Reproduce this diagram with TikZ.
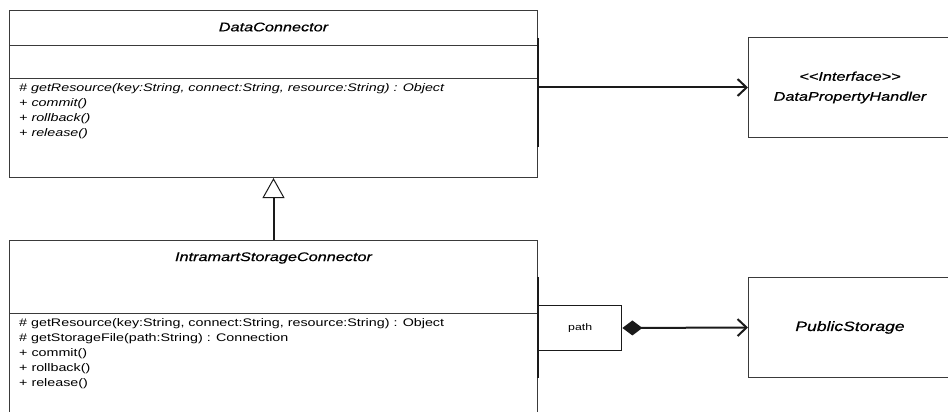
\documentclass[tikz,border=0pt]{standalone}
\usepackage{fontspec}
\newfontfamily\umlfont{Liberation Sans}[FakeStretch=1.3]
\newfontfamily\umltitle{Liberation Sans}[FakeStretch=1.3, FakeBold=0.6]
\usepackage{tikz}
\usetikzlibrary{arrows.meta, positioning, calc}
\definecolor{umlline}{HTML}{1a1a1a}
\definecolor{umlborder}{HTML}{3a3a3a}
\tikzset{
  classbox/.style={draw=umlborder, line width=1pt, minimum width=528pt, anchor=north west, inner sep=0pt},
  classname/.style={font=\umltitle\itshape\fontsize{12.5}{14}\selectfont, inner sep=0pt},
  members/.style={anchor=north west, align=left, inner sep=0pt, font=\umlfont\fontsize{11}{15}\selectfont},
  sidebox/.style={draw=umlborder, line width=1pt, minimum width=212pt, anchor=north west, inner sep=0pt},
  assoc/.style={draw=umlline, line width=2pt, -{Straight Barb[length=9pt, width=17pt]}},
  anchorbar/.style={draw=umlline, line width=2.6pt}
}

\begin{document}
\begin{tikzpicture}[x=1pt, y=-1pt]
    \useasboundingbox (0,0) rectangle (948,412);
    \clip (0,0) rectangle (948,412);
    \node[classbox, minimum height=167pt] (dc) at (9,10) {};
    \node[classname] (dcname) at ($(dc.north)+(0,17)$) {DataConnector};
    \draw[draw=umlborder] ($(dc.north west)+(0,35)$) -- ($(dc.north east)+(0,35)$);
    \draw[draw=umlborder] ($(dc.north west)+(0,68)$) -- ($(dc.north east)+(0,68)$);
    \node[members, font=\umlfont\itshape\fontsize{11}{15}\selectfont] (dcops) at ($(dc.north west)+(10,73)$) {
      \# getResource(key:String, connect:String, resource:String) : Object\\
      + commit()\\
      + rollback()\\
      + release()
    };

    \node[classbox, minimum height=200pt] (isc) at (9,240) {};
    \node[classname] (iscname) at ($(isc.north)+(0,18)$) {IntramartStorageConnector};
    \draw[draw=umlborder] ($(isc.north west)+(0,73)$) -- ($(isc.north east)+(0,73)$);
    \node[members] (iscops) at ($(isc.north west)+(10,78)$) {
      \# getResource(key:String, connect:String, resource:String) : Object\\
      \# getStorageFile(path:String) : Connection\\
      + commit()\\
      + rollback()\\
      + release()
    };

    \node[sidebox, minimum height=100pt] (dph) at (748,37) {};
    \node[classname, align=center, font=\umltitle\itshape\fontsize{12.5}{20}\selectfont]
      (dphname) at ($(dph.west)+(102,0)$) {<\kern0pt<Interface>\kern0pt>\\DataPropertyHandler};

    \node[sidebox, minimum height=100pt] (ps) at (748,277) {};
    \node[classname, font=\umltitle\itshape\fontsize{13.5}{15}\selectfont]
      (psname) at ($(ps.west)+(102,0)$) {PublicStorage};

    \node[draw=umlline, line width=1.4pt, minimum width=83pt, minimum height=45pt, anchor=west,
          font=\umlfont\fontsize{9.5}{11}\selectfont] (path) at ($(isc.north east)+(0,88)$) {path};

    \draw[anchorbar] ($(dc.north east)+(0,28)$) -- ($(dc.north east)+(0,137)$);
    \draw[anchorbar] ($(isc.north east)+(0,37)$) -- ($(isc.north east)+(0,138)$);

    \draw[assoc] (dph.west -| dc.east) -- (dph.west);
    \draw[assoc, {Diamond[length=20pt, width=15pt]}-{Straight Barb[length=9pt, width=17pt]}] (path.east) -- (ps.west);
    \draw[draw=umlline, line width=2pt, -{Triangle[open, length=20pt, width=22pt, line width=1pt]}] (isc.north) -- (dc.south);
  \end{tikzpicture}
\end{document}
